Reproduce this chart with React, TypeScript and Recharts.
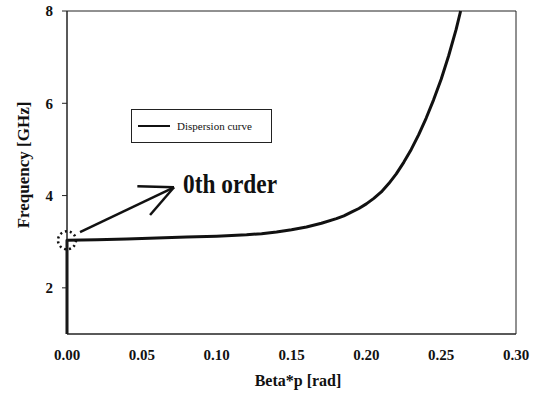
import {
  Legend,
  Line,
  LineChart,
  ReferenceArea,
  ReferenceDot,
  ReferenceLine,
  XAxis,
  YAxis,
} from 'recharts';

// phase shift per cell (rad) and frequency (GHz) of the dispersion curve
const betaP = [
  0, 0, 0.01, 0.02, 0.04, 0.06, 0.08, 0.1, 0.11, 0.12, 0.13, 0.14, 0.15, 0.16, 0.17, 0.18, 0.185, 0.19, 0.195, 0.2,
  0.205, 0.21, 0.215, 0.22, 0.225, 0.23, 0.235, 0.24, 0.245, 0.25, 0.255, 0.26, 0.263,
];
const freqGHz = [
  1.0, 3.03, 3.035, 3.04, 3.06, 3.08, 3.1, 3.12, 3.135, 3.15, 3.175, 3.21, 3.26, 3.32, 3.4, 3.5, 3.56, 3.64, 3.72, 3.82,
  3.94, 4.08, 4.26, 4.47, 4.72, 5.0, 5.32, 5.68, 6.08, 6.52, 7.03, 7.6, 8.0,
];

const xTicks = [0, 0.05, 0.1, 0.15, 0.2, 0.25, 0.3];
const yTicks = [2, 4, 6, 8];

const data = betaP.map((x, i) => ({ x, f: freqGHz[i] }));

const serif = '"Liberation Serif", "Times New Roman", serif';
const tickStyle = { fill: '#111', fontSize: 15, fontWeight: 700, fontFamily: serif };
const ink = '#111';

// arrow pointing at the 0th order crossing, in data coordinates
const arrowTip = { x: 0.0715, y: 4.18 };

function LegendBox() {
  return (
    <div
      style={{
        width: 139,
        height: 32,
        border: '1px solid #222',
        background: '#fff',
        display: 'flex',
        alignItems: 'center',
        fontFamily: serif,
        fontSize: 11,
        color: ink,
      }}
    >
      <span style={{ display: 'inline-block', width: 32, height: 2, background: ink, marginLeft: 6, marginRight: 7 }} />
      <span>Dispersion curve</span>
    </div>
  );
}

export default function App() {
  return (
    <div style={{ position: 'absolute', left: 0, top: 0, width: 544, height: 404, background: '#fff' }}>
      <LineChart width={544} height={404} data={data} margin={{ top: 11, right: 28, bottom: 0, left: 0 }}>
        <XAxis
          dataKey="x"
          type="number"
          domain={[0, 0.3]}
          ticks={xTicks}
          tickFormatter={(v: number) => v.toFixed(2)}
          tick={tickStyle}
          tickLine={false}
          tickSize={0}
          tickMargin={15}
          height={70}
          stroke="#222"
        />
        <YAxis
          type="number"
          domain={[1, 8]}
          ticks={yTicks}
          tick={tickStyle}
          tickSize={5}
          tickMargin={9}
          width={67}
          stroke="#222"
        />
        <ReferenceArea x1={0} x2={0.3} y1={1} y2={8} fill="none" stroke="#222" strokeWidth={1} />
        <Legend
          verticalAlign="middle"
          align="center"
          layout="horizontal"
          wrapperStyle={{ position: 'absolute', left: 131, top: 109, width: 141, height: 34 }}
          content={() => <LegendBox />}
        />
        <Line
          dataKey="f"
          name="Dispersion curve"
          type="linear"
          stroke={ink}
          strokeWidth={3}
          strokeLinejoin="round"
          dot={false}
          isAnimationActive={false}
        />
        {/* 0th order marker and arrow */}
        <ReferenceDot x={0} y={3.03} r={9} fill="none" stroke={ink} strokeWidth={2.5} strokeDasharray="2 3" />
        <ReferenceLine segment={[{ x: 0.0087, y: 3.21 }, arrowTip]} stroke={ink} strokeWidth={2.5} />
        <ReferenceLine segment={[{ x: 0.047, y: 4.2 }, arrowTip]} stroke={ink} strokeWidth={2.5} />
        <ReferenceLine segment={[{ x: 0.0555, y: 3.58 }, arrowTip]} stroke={ink} strokeWidth={2.5} />
        <text x={183} y={193} fontFamily={serif} fontWeight={700} fontSize={28} fill={ink} textLength={94} lengthAdjust="spacingAndGlyphs">
          0th order
        </text>
        <text x={298} y={386} textAnchor="middle" fontFamily={serif} fontWeight={700} fontSize={16} fill={ink}>
          Beta*p [rad]
        </text>
        <text
          x={0}
          y={0}
          transform="translate(29, 165) rotate(-90)"
          textAnchor="middle"
          fontFamily={serif}
          fontWeight={700}
          fontSize={17}
          fill={ink}
        >
          Frequency [GHz]
        </text>
      </LineChart>
    </div>
  );
}
